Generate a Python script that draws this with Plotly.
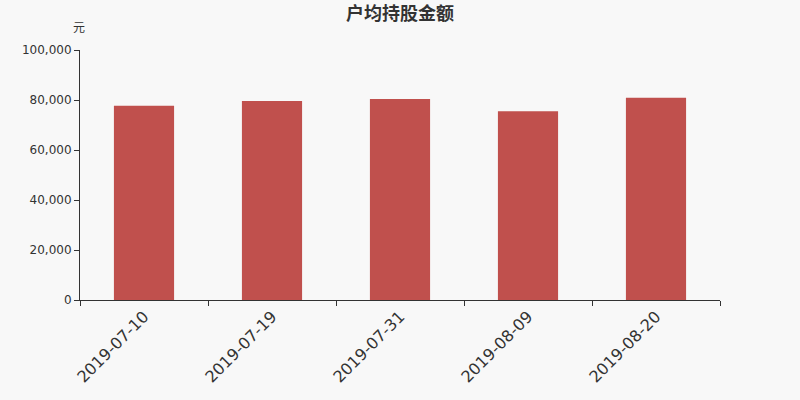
import plotly.graph_objects as go

dates = ["2019-07-10", "2019-07-19", "2019-07-31", "2019-08-09", "2019-08-20"]
amounts = [77700, 79600, 80400, 75500, 80900]
y_ticks = [0, 20000, 40000, 60000, 80000, 100000]
y_labels = ["0", "20,000", "40,000", "60,000", "80,000", "100,000"]

fig = go.Figure(go.Bar(x=dates, y=amounts, marker_color="#c0504d",
                       marker_line_width=0, hoverinfo="x+y"))

fig.update_layout(
    width=800, height=400,
    paper_bgcolor="#f8f8f8", plot_bgcolor="#f8f8f8",
    margin=dict(l=80, r=80, t=50, b=100, autoexpand=False),
    bargap=0.53,
    showlegend=False,
    font=dict(family="DejaVu Sans, Noto Sans CJK SC", color="#333333"),
    title=dict(text="<b>户均持股金额</b>", x=0.5, xanchor="center", y=0.965, yanchor="middle",
               font=dict(family="Noto Sans CJK SC", size=18, color="#333333")),
    annotations=[dict(text="元", xref="paper", yref="paper", x=-0.002, y=1.05,
                      xanchor="center", yanchor="bottom", showarrow=False,
                      font=dict(family="Noto Sans CJK SC", size=12, color="#333333"))],
)
fig.update_xaxes(type="category", showline=True, linecolor="#333333", linewidth=1,
                 ticks="outside", tickson="boundaries", ticklen=5, tickcolor="#333333",
                 tickangle=-45, tickfont=dict(size=16, color="#333333"),
                 showgrid=False, zeroline=False, automargin=False)
fig.update_yaxes(range=[0, 100000], tickvals=y_ticks, ticktext=y_labels,
                 showline=True, linecolor="#333333", linewidth=1,
                 ticks="outside", ticklen=5, tickcolor="#333333",
                 tickfont=dict(size=12, color="#333333"),
                 showgrid=False, zeroline=False, automargin=False)

# page has a default 8px body margin; drop it so the chart fills the window
fig.write_html("out.html", config={"displayModeBar": False},
               post_script="document.body.style.margin='0';"
               "document.body.style.background='#f8f8f8';")
